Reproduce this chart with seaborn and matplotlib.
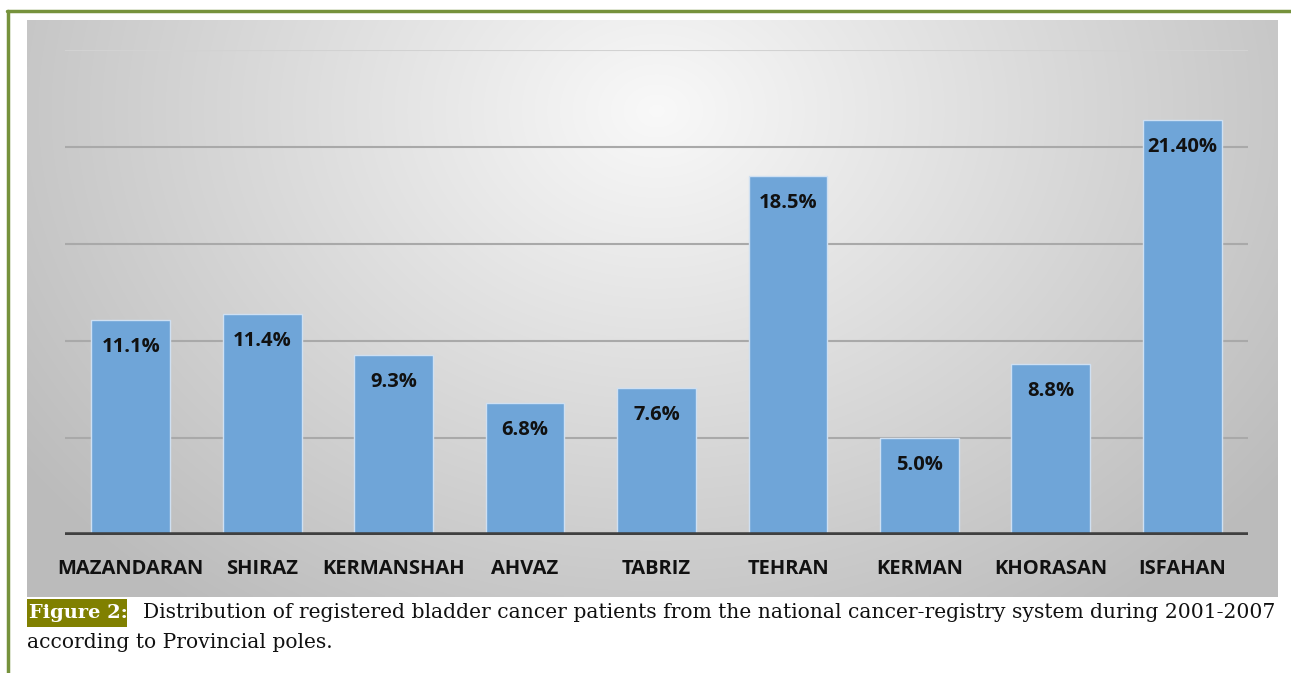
import numpy as np
import matplotlib
matplotlib.use("Agg")
import matplotlib.pyplot as plt
import seaborn as sns
from matplotlib.lines import Line2D
from matplotlib.patches import Rectangle

# datos del grafico
provincias = ["MAZANDARAN", "SHIRAZ", "KERMANSHAH", "AHVAZ", "TABRIZ",
              "TEHRAN", "KERMAN", "KHORASAN", "ISFAHAN"]
porcentajes = [11.1, 11.4, 9.3, 6.8, 7.6, 18.5, 5.0, 8.8, 21.4]
etiquetas = ["11.1%", "11.4%", "9.3%", "6.8%", "7.6%",
             "18.5%", "5.0%", "8.8%", "21.40%"]
marcas_y = [5, 10, 15, 20, 25]

titulo_fig = "Figure 2:"
texto_fig_1 = "Distribution of registered bladder cancer patients from the national cancer-registry system during 2001-2007"
texto_fig_2 = "according to Provincial poles."

sns.set_style("white")
plt.rcParams["font.family"] = ["Open Sans", "DejaVu Sans"]

W, H = 1291, 673
fig = plt.figure(figsize=(W / 100, H / 100), dpi=100)
fig.patch.set_facecolor("white")


def caja(x0, y0, x1, y1):
    # pixeles (origen arriba-izquierda) -> coordenadas de figura
    return [x0 / W, 1 - y1 / H, (x1 - x0) / W, (y1 - y0) / H]


# fondo con degradado radial
fondo = fig.add_axes(caja(27, 20, 1278, 597))
gx, gy = np.meshgrid(np.linspace(0, 1251, 400), np.linspace(0, 577, 200))
d = np.sqrt(((gx - 630) / 780) ** 2 + ((gy - 90) / 620) ** 2)
tono = 0.975 - 0.24 * np.clip(d, 0, 1)
fondo.imshow(np.dstack([tono, tono, tono]), aspect="auto", interpolation="bilinear")
fondo.set_axis_off()

# grafico de barras
ax = fig.add_axes(caja(65, 50, 1248, 535))
ax.patch.set_alpha(0)
sns.barplot(x=provincias, y=porcentajes, color="#6fa5d8", width=0.6,
            edgecolor="#cfe0f2", linewidth=1.0, saturation=1, ax=ax, zorder=3)
ax.set_ylim(0, 25)
ax.set_xlim(-0.5, len(provincias) - 0.5)
ax.set_yticks(marcas_y)
ax.set_yticklabels([])
ax.tick_params(axis="y", length=0)
ax.tick_params(axis="x", length=0, pad=17)
for m in marcas_y:
    ax.axhline(m, color="#a9a9a9" if m < 25 else "#d2d2d2", lw=1.5, zorder=1)
ax.axhline(0, color="#404040", lw=4, zorder=4)
sns.despine(ax=ax, left=True, bottom=True)
ax.set_xlabel("")
ax.set_ylabel("")
for lab in ax.get_xticklabels():
    lab.set_fontweight("bold")
    lab.set_fontsize(14.5)
    lab.set_color("#111111")

for i, (v, t) in enumerate(zip(porcentajes, etiquetas)):
    ax.annotate(t, (i, v), xytext=(0, -19.5), textcoords="offset points",
                ha="center", va="center", fontsize=14.5, fontweight="bold",
                color="#111111", zorder=5)

# borde verde del recuadro
verde = "#76923c"
fig.add_artist(Line2D([7 / W, 1], [1 - 11 / H, 1 - 11 / H], color=verde, lw=2.5))
fig.add_artist(Line2D([8 / W, 8 / W], [0, 1 - 11 / H], color=verde, lw=2.5))

# pie de figura
fig.add_artist(Rectangle((27 / W, 1 - 627 / H), 100 / W, 28 / H,
                         transform=fig.transFigure, color="#808000", lw=0))
fig.text(29 / W, 1 - 613 / H, titulo_fig, color="white", fontweight="bold",
         fontsize=14, family="DejaVu Serif", va="center", ha="left")
fig.text(143 / W, 1 - 613 / H, texto_fig_1, color="#111111",
         fontsize=14.6, family="DejaVu Serif", va="center", ha="left")
fig.text(27 / W, 1 - 643 / H, texto_fig_2, color="#111111",
         fontsize=14.6, family="DejaVu Serif", va="center", ha="left")

fig.savefig("out.png", dpi=100)
